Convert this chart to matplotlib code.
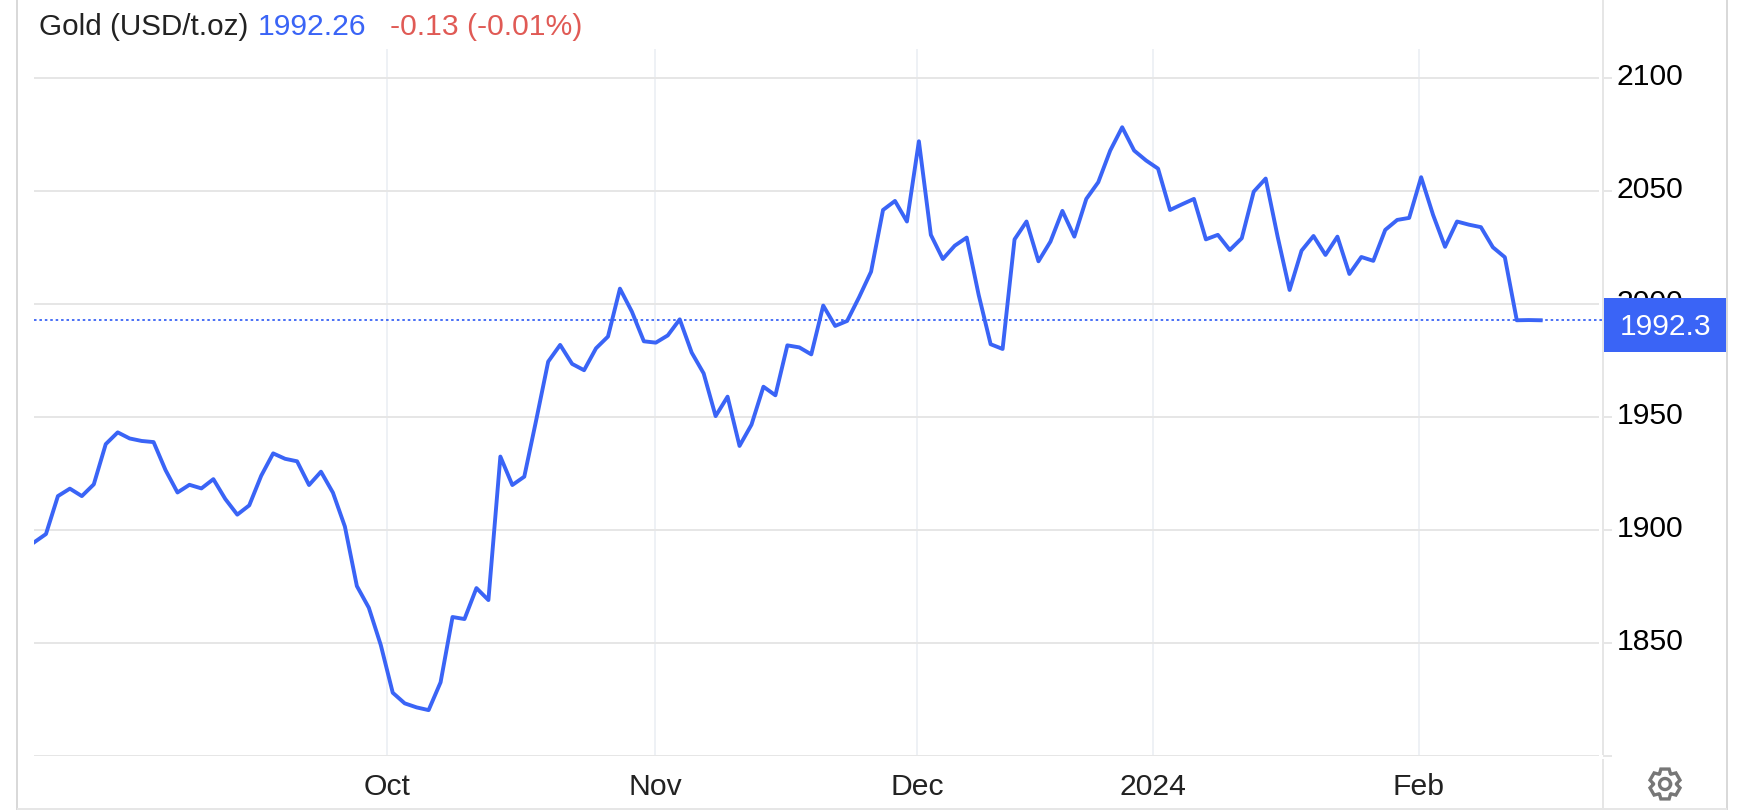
import numpy as np
import matplotlib
matplotlib.use('Agg')
import matplotlib.pyplot as plt
from matplotlib.lines import Line2D
from matplotlib.patches import Polygon, Rectangle
from matplotlib.transforms import ScaledTranslation

plt.rcParams['font.family'] = ['Liberation Sans', 'DejaVu Sans']

W, H = 1742, 810
BLUE = '#3a64f6'
RED = '#e05a55'
GRID_H = '#e6e6e6'
GRID_V = '#eef1f5'
BORDER = '#d9d9d9'

prices = [
    1894.5, 1898.2, 1915.0, 1918.3, 1915.0, 1920.2, 1938.0, 1943.2, 1940.5, 1939.4,
    1938.9, 1926.5, 1916.6, 1920.0, 1918.4, 1922.5, 1913.7, 1906.8, 1910.9, 1924.0,
    1933.9, 1931.5, 1930.4, 1919.9, 1925.8, 1916.5, 1901.5, 1875.2, 1865.6, 1849.1,
    1828.0, 1823.3, 1821.5, 1820.3, 1832.6, 1861.5, 1860.6, 1874.3, 1869.0, 1932.5,
    1919.9, 1923.6, 1948.7, 1974.5, 1981.9, 1973.5, 1970.7, 1980.4, 1985.6, 2006.8,
    1996.6, 1983.5, 1982.9, 1986.1, 1993.2, 1978.5, 1969.3, 1950.4, 1959.0, 1937.2,
    1946.6, 1963.4, 1959.6, 1981.7, 1980.8, 1977.7, 1999.3, 1990.3, 1992.5, 2003.0,
    2014.3, 2041.6, 2045.6, 2036.5, 2072.0, 2030.6, 2019.9, 2025.8, 2029.4, 2004.0,
    1982.2, 1980.1, 2028.6, 2036.5, 2018.9, 2027.6, 2041.2, 2029.8, 2046.5, 2053.9,
    2067.9, 2078.2, 2067.9, 2063.5, 2059.9, 2041.6, 2044.1, 2046.5, 2028.6, 2030.6,
    2023.9, 2029.1, 2049.7, 2055.5, 2029.8, 2006.2, 2023.6, 2030.1, 2021.7, 2029.8,
    2013.3, 2020.8, 2019.1, 2032.8, 2037.2, 2038.1, 2056.1, 2039.4, 2025.3, 2036.5,
    2035.1, 2034.0, 2025.1, 2020.7, 1992.8, 1992.9, 1992.8,
]
last_price = 1992.26
price_line = 1992.8
month_labels = ['Oct', 'Nov', 'Dec', '2024', 'Feb']
month_idx = [29.52, 51.93, 73.84, 93.58, 115.82]
y_ticks = [1800, 1850, 1900, 1950, 2000, 2050, 2100]
y_labels = ['', '1850', '1900', '1950', '2000', '2050', '2100']


def fx(x):
    return x / W


def fy(y):
    return 1 - y / H


def border(x0, y0, x1, y1, color=BORDER, px=2):
    fig.add_artist(Line2D([fx(x0), fx(x1)], [fy(y0), fy(y1)], color=color,
                          lw=px * 0.72, solid_capstyle='butt'))


def gear(cx, cy, r_out, r_in, teeth=6):
    # outline of the settings icon, in pixels
    pts = []
    step = 2 * np.pi / teeth
    for i in range(teeth):
        a = i * step + np.pi / 2
        for da, r in [(-0.50, r_in), (-0.27, r_out), (0.27, r_out), (0.50, r_in)]:
            pts.append((fx(cx + r * np.cos(a + da)), fy(cy + r * np.sin(a + da))))
    return pts


fig = plt.figure(figsize=(W / 100, H / 100), dpi=100, facecolor='white')
ax = fig.add_axes([fx(34), fy(756), fx(1603 - 34), (756 - 49) / H])
ax.set_zorder(1)

x = np.arange(len(prices))
ax.set_xlim(0, (1603 - 34) / 11.958)
ax.set_ylim(1800, 1800 + (756 - 49) / 2.26)

for s in ax.spines.values():
    s.set_visible(False)

ax.vlines(month_idx, 0, 1, transform=ax.get_xaxis_transform(), color=GRID_V,
          lw=1.4, zorder=1)
ax.hlines(y_ticks, 0, 0.9975, transform=ax.get_yaxis_transform(), color=GRID_H,
          lw=1.4, zorder=1)
ax.axhline(price_line, color=BLUE, lw=1.3, ls=(0, (1.4, 1.6)), zorder=2)
ax.plot(x, prices, color=BLUE, lw=2.8, solid_joinstyle='round', zorder=3)

ax.yaxis.tick_right()
ax.set_yticks(y_ticks)
ax.set_yticklabels(y_labels)
ax.tick_params(axis='y', length=6.5, width=1.4, color=GRID_H, pad=3.2,
               labelsize=21.7, labelcolor='black')
# labels sit a little above their grid lines
lift = ScaledTranslation(0, 4.4 / 100, fig.dpi_scale_trans)
for label in ax.get_yticklabels():
    label.set_transform(label.get_transform() + lift)

ax.set_xticks(month_idx)
ax.set_xticklabels(month_labels)
ax.tick_params(axis='x', length=0, pad=12, labelsize=21.7, labelcolor='#222222')

# current price flag sits over the 2000 label
ax.add_patch(Rectangle((fx(1604), fy(352)), fx(122), 54 / H, transform=fig.transFigure,
                       facecolor=BLUE, edgecolor='none', clip_on=False, zorder=6))
fig.text(fx(1665.5), fy(327), '1992.3', color='white', fontsize=21.6, ha='center',
         va='center', zorder=7)

# header
fig.text(fx(39), fy(35), 'Gold (USD/t.oz)', fontsize=21.3, color='#222222', va='baseline', zorder=7)
fig.text(fx(258), fy(35), f'{last_price:.2f}', fontsize=21.7, color=BLUE, va='baseline', zorder=7)
fig.text(fx(390), fy(35), '-0.13 (-0.01%)', fontsize=21.7, color=RED, va='baseline', zorder=7)

# frame lines
border(17, 0, 17, 810)
border(1727, 0, 1727, 810)
border(17, 809, 1727, 809, color=GRID_H)
border(1603, 0, 1603, 755, color=GRID_H)
border(1603, 759, 1603, 809, color=GRID_H)

# settings icon
fig.add_artist(Polygon(gear(1665, 784, 15.5, 11.5), closed=True, fill=False,
                       edgecolor='#777777', lw=2.4, transform=fig.transFigure))
ring = np.linspace(0, 2 * np.pi, 40)
fig.add_artist(Line2D(fx(1665 + 5.5 * np.cos(ring)), fy(784 + 5.5 * np.sin(ring)),
                      color='#777777', lw=2.4))

fig.savefig('out.png', dpi=100, facecolor='white')
